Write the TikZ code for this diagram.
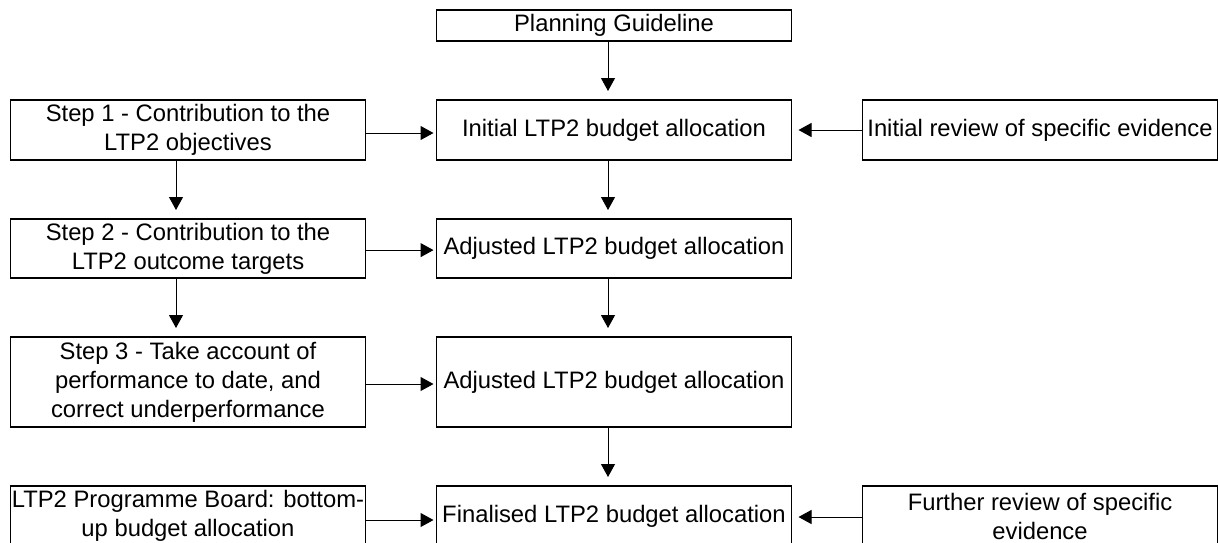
\documentclass[tikz,border=0pt]{standalone}
\usepackage{fontspec}
\setmainfont{Liberation Sans}
\usetikzlibrary{arrows.meta, positioning}

\begin{document}
\begin{tikzpicture}[
    x=0.5pt, y=0.5pt,
    node distance=29.5pt and 35.5pt,
    box/.style={draw, line width=0.7pt, minimum width=177.5pt, minimum height=30pt,
                inner sep=0pt, outer sep=0pt, align=center,
                font=\fontsize{11.9}{14.5}\selectfont},
    arr/.style={-{Triangle[length=6.5pt, width=7pt]}, line width=0.5pt},
    down/.style={arr, shorten >=4.5pt},
    rarr/.style={arr, shorten >=1.5pt},
    larr/.style={arr, shorten >=3.5pt}
  ]
  \useasboundingbox (0,0) rectangle (1218,-542);

  % Nodes – middle column
  \node[box, minimum height=15.5pt] (plan) at (614,-25.5) {Planning Guideline};
  \node[box, below=of plan]                        (init)  {Initial LTP2 budget allocation};
  \node[box, below=of init, minimum height=29.5pt] (adj1)  {Adjusted LTP2 budget allocation};
  \node[box, below=of adj1, minimum height=45pt]   (adj2)  {Adjusted LTP2 budget allocation};
  \node[box, below=of adj2]                        (final) {Finalised LTP2 budget allocation};

  % Nodes – left column
  \node[box, left=of init]                        (step1) {Step 1 - Contribution to the\\ LTP2 objectives};
  \node[box, left=of adj1, minimum height=29.5pt] (step2) {Step 2 - Contribution to the\\ LTP2 outcome targets};
  \node[box, left=of adj2, minimum height=45pt]   (step3) {Step 3 - Take account of\\ performance to date, and\\ correct underperformance};
  \node[box, left=of final]                       (board) {LTP2 Programme Board: bottom-\\up budget allocation};

  % Nodes – right column
  \node[box, right=of init]  (review1) {Initial review of specific evidence};
  \node[box, right=of final] (review2) {Further review of specific\\ evidence};

  % Arrows – down
  \draw[down] ([xshift=-3pt]plan.south)  -- ([xshift=-3pt]init.north);
  \draw[down] ([xshift=-3pt]init.south)  -- ([xshift=-3pt]adj1.north);
  \draw[down] ([xshift=-3pt]adj1.south)  -- ([xshift=-3pt]adj2.north);
  \draw[down] ([xshift=-3pt]adj2.south)  -- ([xshift=-3pt]final.north);
  \draw[down] ([xshift=-6pt]step1.south) -- ([xshift=-6pt]step2.north);
  \draw[down] ([xshift=-6pt]step2.south) -- ([xshift=-6pt]step3.north);

  % Arrows – across
  \draw[rarr] ([yshift=-1.5pt]step1.east) -- ([yshift=-1.5pt]init.west);
  \draw[rarr] ([yshift=-0.8pt]step2.east) -- ([yshift=-0.8pt]adj1.west);
  \draw[rarr] ([yshift=-1pt]step3.east)   -- ([yshift=-1pt]adj2.west);
  \draw[rarr] ([yshift=-2pt]board.east)   -- ([yshift=-2pt]final.west);
  \draw[larr] (review1.west) -- (init.east);
  \draw[larr] ([yshift=-0.5pt]review2.west) -- ([yshift=-0.5pt]final.east);
\end{tikzpicture}
\end{document}
